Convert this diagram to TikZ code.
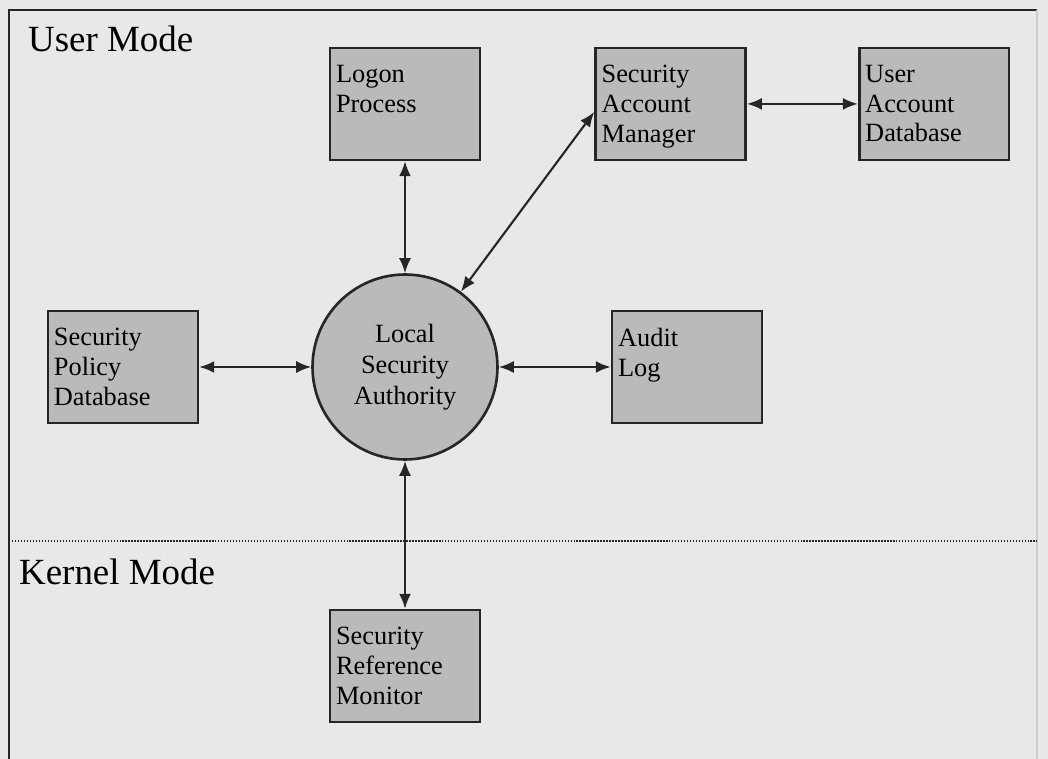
\documentclass[tikz,border=0pt]{standalone}
\usepackage{fontspec}
\setmainfont{Liberation Serif}
\usepackage{xcolor}
\usetikzlibrary{arrows.meta,positioning}
\definecolor{pagegray}{RGB}{232,232,232}
\definecolor{boxgray}{RGB}{186,186,186}
\definecolor{inkgray}{RGB}{38,38,38}
\definecolor{edgegray}{RGB}{205,205,205}
\tikzset{
    secbase/.style={
        draw=inkgray,
        line width=1.5pt,
        fill=boxgray
    },
    procbox/.style={secbase, rectangle, minimum width=3.0cm, minimum height=2.24cm, inner sep=0pt},
    boxtext/.style={anchor=north west, align=left, inner xsep=0.14cm, inner ysep=0.36cm, font={\fontsize{15}{17}\selectfont}},
    authnode/.style={secbase, circle, minimum size=3.7cm, inner sep=0pt, align=center, font={\fontsize{15}{17.5}\selectfont}},
    modetext/.style={anchor=base west, font={\fontsize{21}{25}\selectfont}},
    link/.style={{Latex[length=0.3cm,width=0.24cm]}-{Latex[length=0.3cm,width=0.24cm]}, line width=1.2pt, draw=inkgray},
    divider/.style={line width=1.1pt, draw=inkgray, dash pattern=on 0.8pt off 0.9pt},
}

\begin{document}
\begin{tikzpicture}[x=0.02cm, y=-0.02cm]
    % Page and frame
    \fill[pagegray] (0,0) rectangle (1048,759);
    \useasboundingbox (0,0) rectangle (1048,759);
    \draw[inkgray, line width=1.5pt] (9,759) -- (9,10) -- (1037,10);
    \draw[edgegray, line width=1pt] (1037,10) -- (1037,759);

    % Modes
    \node[modetext] (usermode) at (22,52) {User Mode};
    \node[modetext] (kernelmode) at (13,585) {Kernel Mode};
    \coordinate (divleft) at (9,541);
    \coordinate (divright) at (1037,541);
    \draw[divider] (divleft) -- (divright);

    % Core
    \node[authnode] (lsa) at (405,367) {Local\\Security\\Authority};

    % Components around the authority
    \node[procbox, above=2.24cm of lsa, label={[boxtext]north west:Logon\\Process}] (logon) {};
    \node[procbox, right=2.26cm of logon, label={[boxtext]north west:Security\\Account\\Manager}] (sam) {};
    \node[procbox, right=2.22cm of sam, label={[boxtext]north west:User\\Account\\Database}] (uad) {};
    \node[procbox, left=2.24cm of lsa, label={[boxtext]north west:Security\\Policy\\Database}] (spd) {};
    \node[procbox, right=2.24cm of lsa, label={[boxtext]north west:Audit\\Log}] (audit) {};
    \node[procbox, below=2.96cm of lsa, label={[boxtext]north west:Security\\Reference\\Monitor}] (srm) {};

    % Two-way links
    \draw[link] (logon) -- (lsa);
    \draw[link] (lsa) -- ([yshift=-0.16cm]sam.west);
    \draw[link] (sam) -- (uad);
    \draw[link] (spd) -- (lsa);
    \draw[link] (lsa) -- (audit);
    \draw[link] (lsa) -- (srm);
\end{tikzpicture}
\end{document}
